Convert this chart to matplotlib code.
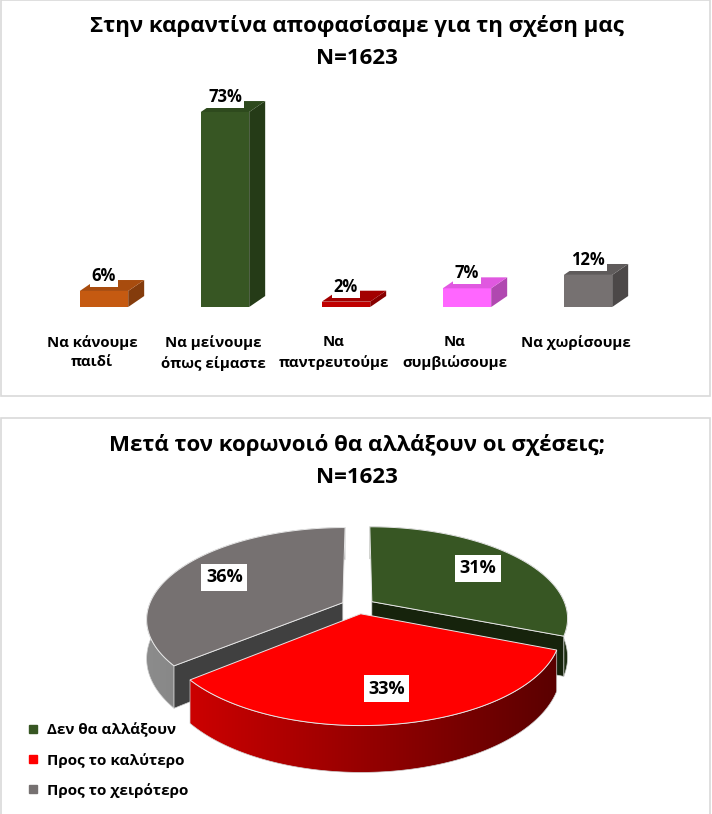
import numpy as np
import matplotlib
matplotlib.use('Agg')
import matplotlib.pyplot as plt
from matplotlib.patches import Polygon, Rectangle
from matplotlib.lines import Line2D
from matplotlib.colors import to_rgb

plt.rcParams['font.family'] = ['Liberation Sans Narrow', 'Open Sans', 'DejaVu Sans']

# δεδομένα - ραβδόγραμμα
bar_title = 'Στην καραντίνα αποφασίσαμε για τη σχέση μας\nN=1623'
bar_labels = ['Να κάνουμε\nπαιδί', 'Να μείνουμε\nόπως είμαστε', 'Να\nπαντρευτούμε',
              'Να\nσυμβιώσουμε', 'Να χωρίσουμε']
bar_values = [6, 73, 2, 7, 12]
bar_front = ['#C55A11', '#375623', '#C00000', '#FF66FF', '#767171']
bar_side = ['#843C0C', '#253B17', '#870000', '#B048B0', '#4C4848']
bar_top = ['#A84C0E', '#2E4A1D', '#A30000', '#E058E0', '#5F5B5B']

# δεδομένα - πίτα
pie_title = 'Μετά τον κορωνοιό θα αλλάξουν οι σχέσεις;\nN=1623'
pie_labels = ['Δεν θα αλλάξουν', 'Προς το καλύτερο', 'Προς το χειρότερο']
pie_values = [31, 33, 36]
pie_top = ['#375623', '#FF0000', '#767171']
pie_wall_light = ['#2A421B', '#CC0000', '#8C8C8C']
pie_wall_dark = ['#1C2D11', '#5A0000', '#6E6E6E']
pie_radial = ['#16230C', '#7A0000', '#404040']

W, H = 712, 814
fig = plt.figure(figsize=(W / 100, H / 100), dpi=100)
fig.patch.set_facecolor('white')


def fx(px):
    return px / W


def fy(py):
    return 1 - py / H


# πλαίσια
for y0, y1 in [(0, 396), (418, 816)]:
    fig.patches.append(Rectangle((fx(1), fy(y1)), fx(709), (y1 - y0) / H,
                                 transform=fig.transFigure, fill=False,
                                 edgecolor='#D9D9D9', lw=1.2))

# ---------------- ραβδόγραμμα ----------------
fig.text(fx(357), fy(42), bar_title, ha='center', va='center', fontsize=16,
         weight='bold', linespacing=1.7)

ax = fig.add_axes([fx(43.5), fy(307), fx(605), 213.7 / H])
ax.set_xlim(-0.5, 4.5)
ax.set_ylim(0, 80)
ax.axis('off')

bw = 0.4
DX, DY = 0.132, 4.1
for i, v in enumerate(bar_values):
    ax.bar(i, v, width=bw, color=bar_front[i], zorder=2)
    r = i + bw / 2
    l = i - bw / 2
    ax.add_patch(Polygon([(r, 0), (r + DX, DY), (r + DX, v + DY), (r, v)],
                         closed=True, fc=bar_side[i], ec='none', zorder=2))
    ax.add_patch(Polygon([(l, v), (r, v), (r + DX, v + DY), (l + DX, v + DY)],
                         closed=True, fc=bar_top[i], ec='none', zorder=2))
    ax.annotate(f'{v}%', xy=(i, v), xytext=(0, 15), textcoords='offset pixels',
                ha='center', va='center', fontsize=12, weight='bold', zorder=5,
                bbox=dict(boxstyle='square,pad=0.12', fc='white', ec='none'))
    ax.annotate(bar_labels[i], xy=(i - 0.1, 0), xytext=(0, -28), textcoords='offset pixels',
                ha='center', va='top', fontsize=10.8, weight='bold', linespacing=1.5,
                annotation_clip=False)

# ---------------- πίτα 3D ----------------
fig.text(fx(357), fy(461), pie_title, ha='center', va='center', fontsize=16,
         weight='bold', linespacing=1.65)

pax = fig.add_axes([0, 0, 1, 1])
pax.axis('off')

CX, CY = 358, 606
RX, RY = 194, 89.3
P = 0.174          # προοπτική
THICK = 38
EXPL = 0.087
LABR = 0.72


def proj(u, v, z=0.0):
    s = 1.0 / (1.0 + P * v)
    return CX + RX * u * s, CY - RY * v * s + z * s


total = sum(pie_values)
angles = np.concatenate([[0], np.cumsum(pie_values) / total * 360])
slices = []
for k in range(len(pie_values)):
    a0, a1 = np.radians(angles[k]), np.radians(angles[k + 1])
    slices.append((k, a0, a1, (a0 + a1) / 2))

# πίσω κομμάτια πρώτα
slices.sort(key=lambda s: -np.cos(s[3]))

for n, (k, a0, a1, mid) in enumerate(slices):
    z0 = 10 + 4 * n
    ex, ey = EXPL * np.sin(mid), EXPL * np.cos(mid)
    th = np.linspace(a0, a1, 150)
    us, vs = ex + np.sin(th), ey + np.cos(th)
    top = [proj(u, v) for u, v in zip(us, vs)]
    bot = [proj(u, v, THICK) for u, v in zip(us, vs)]
    # εξωτερικό τοίχωμα με διαβάθμιση
    pts = np.array(top + bot[::-1])
    wall = Polygon(pts, closed=True, fc='none', ec='#D0D0D0', lw=0.5,
                   transform=pax.transData, zorder=z0 + 0.5)
    pax.add_patch(wall)
    grad = np.linspace(0, 1, 256)
    c1, c2 = np.array(to_rgb(pie_wall_light[k])), np.array(to_rgb(pie_wall_dark[k]))
    img = (c1[None, :] + (c2 - c1)[None, :] * grad[:, None])[None, :, :]
    im = pax.imshow(img, extent=[pts[:, 0].min() - 1, pts[:, 0].max() + 1,
                                 pts[:, 1].max() + 1, pts[:, 1].min() - 1],
                    aspect='auto', interpolation='bilinear', zorder=z0)
    im.set_clip_path(wall)
    # ακτινικά τοιχώματα που φαίνονται
    c0 = (ex, ey)
    for ang, sign in [(a0, 1), (a1, -1)]:
        nv = sign * np.sin(ang)
        if nv < -0.05:
            e = (ex + np.sin(ang), ey + np.cos(ang))
            pax.add_patch(Polygon([proj(*c0), proj(*e), proj(*e, THICK), proj(*c0, THICK)],
                                  closed=True, fc=pie_radial[k], ec='#D0D0D0', lw=0.5,
                                  zorder=z0 + 1))
    # πάνω επιφάνεια
    pax.add_patch(Polygon([proj(*c0)] + top, closed=True, fc=pie_top[k],
                          ec='#E6E6E6', lw=0.7, zorder=z0 + 2))

for k, a0, a1, mid in slices:
    r = LABR + EXPL
    lx, ly = proj(r * np.sin(mid), r * np.cos(mid))
    pax.text(lx, ly, f'{pie_values[k]}%', ha='center', va='center', fontsize=13,
             weight='bold', zorder=30,
             bbox=dict(boxstyle='square,pad=0.25', fc='white', ec='none'))

pax.set_xlim(0, W)
pax.set_ylim(H, 0)

handles = [Line2D([], [], marker='s', ls='none', color=c, markersize=6) for c in pie_top]
fig.legend(handles, pie_labels, loc='upper left', bbox_to_anchor=(fx(27), fy(723)),
           frameon=False, borderaxespad=0, borderpad=0, handlelength=0.8,
           handletextpad=0.5, labelspacing=1.0,
           prop=dict(size=11, weight='bold'))

fig.savefig('out.png', dpi=100, facecolor='white')
